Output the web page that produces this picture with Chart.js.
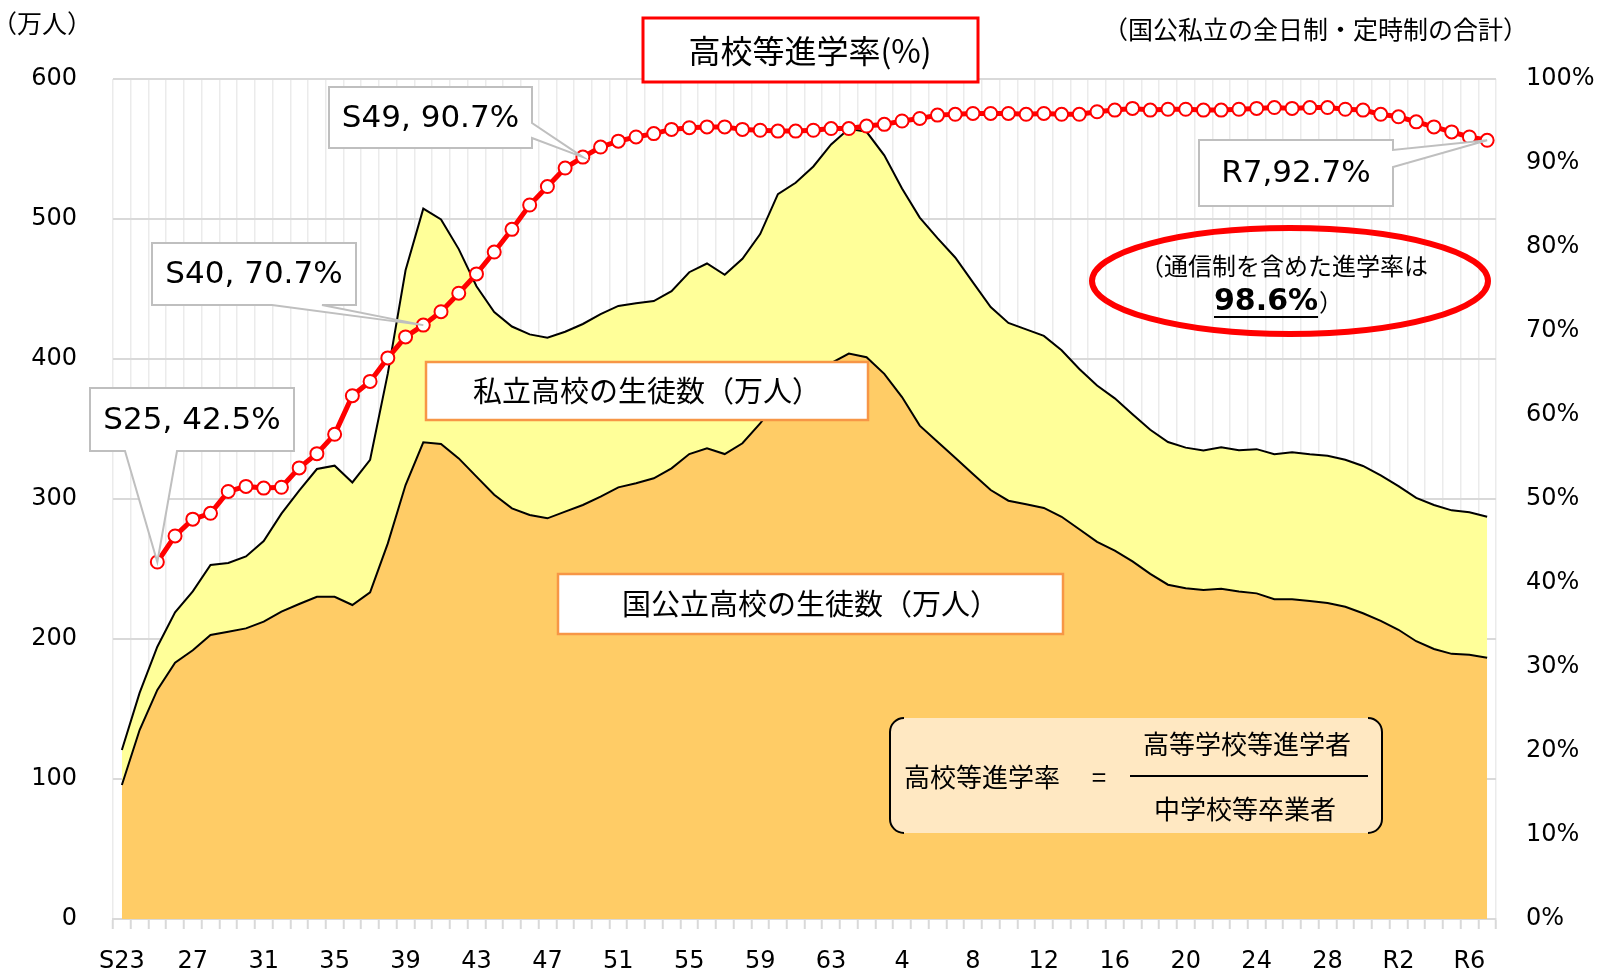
<!DOCTYPE html>
<html lang="ja">
<head>
<meta charset="utf-8">
<title>高校等進学率と生徒数の推移</title>
<script src="https://cdn.jsdelivr.net/npm/chart.js@4.4.1/dist/chart.umd.min.js"></script>
<style>
  html, body { margin: 0; padding: 0; background: #ffffff; }
  #wrap { width: 1600px; height: 974px; position: relative; }
</style>
</head>
<body>
<div id="wrap"><canvas id="chart"></canvas></div>
<script>
// Years S23 (1948) .. R7 (2025)
const categories = [
  "S23","S24","S25","S26","S27","S28","S29","S30","S31","S32","S33","S34","S35","S36","S37","S38","S39","S40","S41","S42",
  "S43","S44","S45","S46","S47","S48","S49","S50","S51","S52","S53","S54","S55","S56","S57","S58","S59","S60","S61","S62",
  "S63","H1","H2","H3","H4","H5","H6","H7","H8","H9","H10","H11","H12","H13","H14","H15","H16","H17","H18","H19",
  "H20","H21","H22","H23","H24","H25","H26","H27","H28","H29","H30","R1","R2","R3","R4","R5","R6","R7"
];

// Only every 4th year gets a label on the x axis
const tickLabels = ["S23","27","31","35","39","43","47","51","55","59","63","4","8","12","16","20","24","28","R2","R6"];
const tickEvery = 4;

// 国公立高校の生徒数 (万人)
const publicStudents = [
  95.7, 135.0, 163.6, 183.0, 192.0, 202.9, 205.2, 207.6, 212.4, 219.5, 225.0, 230.2, 230.2, 224.3, 233.3, 268.3, 310.0, 340.5, 339.3, 329.0,
  316.0, 303.0, 293.3, 288.6, 286.2, 291.0, 295.7, 301.7, 308.3, 311.2, 314.8, 321.9, 332.1, 336.2, 332.1, 339.8, 354.0, 370.0, 380.0, 388.0,
  397.0, 403.9, 401.3, 389.4, 372.8, 352.4, 340.9, 329.4, 317.9, 306.4, 298.8, 296.2, 293.6, 287.3, 278.4, 269.4, 263.1, 255.4, 246.5, 238.8,
  236.3, 235.0, 235.9, 233.9, 232.6, 228.4, 228.4, 227.1, 225.7, 223.0, 218.4, 212.9, 206.6, 198.4, 192.9, 189.4, 188.8, 186.6
];

// 国公私立の合計生徒数 (万人); the band above the public area is 私立
const totalStudents = [
  120.7, 161.5, 194.5, 219.0, 234.0, 252.9, 254.3, 259.0, 270.0, 289.5, 306.0, 321.4, 323.8, 311.8, 328.0, 389.7, 463.4, 507.4, 499.7, 478.5,
  452.0, 433.5, 423.2, 417.6, 415.2, 419.5, 425.0, 432.0, 437.9, 439.8, 441.4, 448.5, 462.0, 468.2, 460.1, 471.6, 489.2, 517.8, 525.9, 537.5,
  553.3, 564.4, 562.3, 545.5, 521.8, 501.0, 486.3, 472.5, 454.7, 437.1, 425.8, 421.2, 416.5, 406.2, 392.9, 381.0, 371.9, 360.5, 349.5, 340.7,
  336.7, 334.7, 336.9, 334.9, 335.6, 332.0, 333.4, 331.9, 330.9, 328.0, 323.6, 316.8, 309.2, 300.8, 295.7, 291.9, 290.5, 287.3
];

// 高校等進学率 (%), starts at S25
const enrollRate = [
  null, null, 42.5, 45.6, 47.6, 48.3, 50.9, 51.5, 51.3, 51.4, 53.7, 55.4, 57.7, 62.3, 64.0, 66.8, 69.3, 70.7, 72.3, 74.5,
  76.8, 79.4, 82.1, 85.0, 87.2, 89.4, 90.7, 91.9, 92.6, 93.1, 93.5, 94.0, 94.2, 94.3, 94.3, 94.0, 93.9, 93.8, 93.8, 93.9,
  94.1, 94.1, 94.4, 94.6, 95.0, 95.3, 95.7, 95.8, 95.9, 95.9, 95.9, 95.8, 95.9, 95.8, 95.8, 96.1, 96.3, 96.5, 96.3, 96.4,
  96.4, 96.3, 96.3, 96.4, 96.5, 96.6, 96.5, 96.6, 96.6, 96.4, 96.3, 95.8, 95.5, 94.9, 94.3, 93.7, 93.1, 92.7
];

const JP = '"Noto Sans CJK JP", sans-serif';
const LATIN = '"DejaVu Sans", "Noto Sans CJK JP", sans-serif';

// Callouts on the rate line: box in pixels, wedge base along one side,
// tip goes to the data point (looked up through the chart's scales).
const callouts = [
  { text: "S25, 42.5%", index: 2,  box: [90, 388, 204, 63],  side: "bottom", a: 125, b: 177 },
  { text: "S40, 70.7%", index: 17, box: [152, 243, 204, 62], side: "bottom", a: 272, b: 322 },
  { text: "S49, 90.7%", index: 26, box: [329, 87, 203, 61],  side: "right",  a: 123, b: 138 },
  { text: "R7,92.7%",   index: 77, box: [1199, 140, 194, 66], side: "right", a: 150, b: 167 },
];

function drawCallout(ctx, c, tx, ty) {
  const [x, y, w, h] = c.box;
  ctx.beginPath();
  ctx.moveTo(x, y);
  ctx.lineTo(x + w, y);
  if (c.side === "right") {
    ctx.lineTo(x + w, c.a);
    ctx.lineTo(tx, ty);
    ctx.lineTo(x + w, c.b);
    ctx.lineTo(x + w, y + h);
    ctx.lineTo(x, y + h);
  } else {
    ctx.lineTo(x + w, y + h);
    ctx.lineTo(c.b, y + h);
    ctx.lineTo(tx, ty);
    ctx.lineTo(c.a, y + h);
    ctx.lineTo(x, y + h);
  }
  ctx.closePath();
  ctx.fillStyle = "#ffffff";
  ctx.fill();
  ctx.lineWidth = 2;
  ctx.strokeStyle = "#BFBFBF";
  ctx.stroke();
  ctx.fillStyle = "#000000";
  ctx.font = "31px " + LATIN;
  ctx.textAlign = "center";
  ctx.textBaseline = "middle";
  ctx.fillText(c.text, x + w / 2, y + h / 2 + 1);
}

function labelBox(ctx, x, y, w, h, text, border, size) {
  ctx.fillStyle = "#ffffff";
  ctx.fillRect(x, y, w, h);
  ctx.lineWidth = 2.5;
  ctx.strokeStyle = border;
  ctx.strokeRect(x, y, w, h);
  ctx.fillStyle = "#000000";
  ctx.font = size + "px " + JP;
  ctx.textAlign = "center";
  ctx.textBaseline = "middle";
  ctx.fillText(text, x + w / 2, y + h / 2);
}

const overlay = {
  id: "overlay",
  beforeDraw(chart) {
    const { ctx } = chart;
    ctx.save();
    ctx.fillStyle = "#ffffff";
    ctx.fillRect(0, 0, chart.width, chart.height);
    ctx.restore();
  },
  afterDatasetsDraw(chart) {
    const { ctx } = chart;
    const xs = chart.scales.x;
    const yr = chart.scales.y1;
    ctx.save();

    // axis unit and note
    ctx.fillStyle = "#000000";
    ctx.textBaseline = "middle";
    ctx.textAlign = "left";
    ctx.font = "25px " + JP;
    ctx.fillText("（万人）", -8, 23);
    ctx.textAlign = "right";
    ctx.font = "25px " + JP;
    ctx.fillText("（国公私立の全日制・定時制の合計）", 1528, 29);

    // title box
    ctx.fillStyle = "#ffffff";
    ctx.fillRect(643, 18, 335, 64);
    ctx.lineWidth = 3;
    ctx.strokeStyle = "#FF0000";
    ctx.strokeRect(643, 18, 335, 64);
    ctx.fillStyle = "#000000";
    ctx.font = "32px " + JP;
    ctx.textAlign = "center";
    ctx.fillText("高校等進学率(%)", 810, 51);

    // series labels
    labelBox(ctx, 426, 362, 442, 58, "私立高校の生徒数（万人）", "#F79646", 29);
    labelBox(ctx, 558, 574, 505, 60, "国公立高校の生徒数（万人）", "#F79646", 29);

    // callouts
    callouts.forEach((c) => {
      drawCallout(ctx, c, xs.getPixelForValue(c.index), yr.getPixelForValue(enrollRate[c.index]));
    });

    // red ellipse note
    ctx.beginPath();
    ctx.ellipse(1290, 281, 198, 53, 0, 0, Math.PI * 2);
    ctx.lineWidth = 6;
    ctx.strokeStyle = "#FF0000";
    ctx.stroke();
    ctx.fillStyle = "#000000";
    ctx.textAlign = "center";
    ctx.font = "24px " + JP;
    ctx.fillText("（通信制を含めた進学率は", 1284, 266);
    ctx.textAlign = "left";
    ctx.font = "bold 30px " + LATIN;
    const bold = "98.6%";
    const bw = ctx.measureText(bold).width;
    const bx = 1214;
    ctx.fillText(bold, bx, 302);
    ctx.fillRect(bx, 316, bw, 2);
    ctx.font = "24px " + JP;
    ctx.fillText("）", bx + bw + 1, 302);

    // formula box
    const fx = 890, fy = 718, fw = 492, fh = 115, r = 14;
    ctx.beginPath();
    ctx.roundRect(fx, fy, fw, fh, r);
    ctx.fillStyle = "#FFE8C2";
    ctx.fill();
    ctx.beginPath();
    ctx.moveTo(fx + r, fy);
    ctx.arcTo(fx, fy, fx, fy + r, r);
    ctx.lineTo(fx, fy + fh - r);
    ctx.arcTo(fx, fy + fh, fx + r, fy + fh, r);
    ctx.moveTo(fx + fw - r, fy);
    ctx.arcTo(fx + fw, fy, fx + fw, fy + r, r);
    ctx.lineTo(fx + fw, fy + fh - r);
    ctx.arcTo(fx + fw, fy + fh, fx + fw - r, fy + fh, r);
    ctx.lineWidth = 2;
    ctx.strokeStyle = "#000000";
    ctx.stroke();
    ctx.fillStyle = "#000000";
    ctx.font = "26px " + JP;
    ctx.textAlign = "left";
    ctx.fillText("高校等進学率", 904, 777);
    ctx.textAlign = "center";
    ctx.fillText("=", 1099, 777);
    ctx.fillText("高等学校等進学者", 1247, 744);
    ctx.fillText("中学校等卒業者", 1245, 809);
    ctx.fillRect(1130, 775, 238, 2);

    ctx.restore();
  },
};

const chart = new Chart(document.getElementById("chart"), {
  type: "line",
  data: {
    labels: categories,
    datasets: [
      {
        label: "国公立高校の生徒数",
        data: publicStudents,
        yAxisID: "y",
        borderColor: "#000000",
        borderWidth: 2,
        backgroundColor: "#FFCC66",
        fill: "origin",
        pointRadius: 0,
        tension: 0,
        order: 3,
      },
      {
        label: "合計",
        data: totalStudents,
        yAxisID: "y",
        borderColor: "#000000",
        borderWidth: 2,
        backgroundColor: "#FFFF99",
        fill: "-1",
        pointRadius: 0,
        tension: 0,
        order: 2,
      },
      {
        label: "高校等進学率",
        data: enrollRate,
        yAxisID: "y1",
        borderColor: "#FF0000",
        borderWidth: 5,
        pointRadius: 6.5,
        pointBackgroundColor: "#ffffff",
        pointBorderColor: "#FF0000",
        pointBorderWidth: 2,
        fill: false,
        tension: 0,
        order: 1,
      },
    ],
  },
  options: {
    responsive: true,
    maintainAspectRatio: false,
    animation: false,
    layout: { padding: { top: 79, left: 0, right: 0, bottom: 0 } },
    plugins: {
      legend: { display: false },
      tooltip: { enabled: false },
      filler: { drawTime: "beforeDatasetsDraw" },
    },
    font: { family: LATIN },
    scales: {
      x: {
        offset: true,
        grid: {
          offset: true,
          color: "#EBEBEB",
          lineWidth: 1.5,
          drawTicks: true,
          tickLength: 10,
          tickColor: "#D9D9D9",
          tickWidth: 2,
        },
        border: { color: "#D9D9D9", width: 2 },
        ticks: {
          autoSkip: false,
          maxRotation: 0,
          minRotation: 0,
          padding: 18,
          color: "#000000",
          font: { family: LATIN, size: 24 },
          callback: (value, index) => (index % tickEvery === 0 ? tickLabels[index / tickEvery] : ""),
        },
        afterFit: (scale) => { scale.height = 55; },
      },
      y: {
        position: "left",
        min: 0,
        max: 600,
        grid: { color: "#D9D9D9", lineWidth: 2, drawTicks: false },
        border: { display: false },
        ticks: {
          stepSize: 100,
          padding: 36,
          color: "#000000",
          font: { family: LATIN, size: 24 },
        },
        afterFit: (scale) => { scale.width = 113; },
      },
      y1: {
        position: "right",
        min: 0,
        max: 100,
        grid: { display: false, drawTicks: false },
        border: { display: false },
        ticks: {
          stepSize: 10,
          padding: 30,
          color: "#000000",
          font: { family: LATIN, size: 24 },
          callback: (v) => v + "%",
        },
        afterFit: (scale) => { scale.width = 104; },
      },
    },
  },
  plugins: [overlay],
});
</script>
</body>
</html>
